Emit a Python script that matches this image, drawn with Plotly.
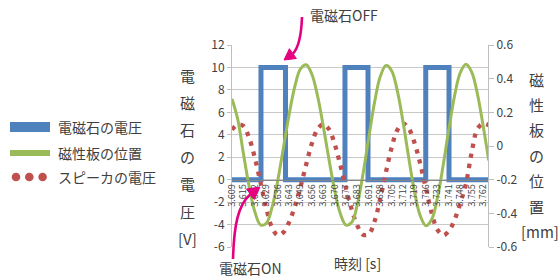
import plotly.graph_objects as go

# ---------------- data ----------------
tick_labels = ["3.609", "3.615", "3.622", "3.629", "3.636", "3.643", "3.649", "3.656",
               "3.663", "3.670", "3.677", "3.683", "3.691", "3.698", "3.705", "3.712",
               "3.719", "3.726", "3.733", "3.741", "3.748", "3.755", "3.762"]

# electromagnet voltage [V] (square wave): sample position (in label steps) and value
magnet_pos = [0, 2.54, 2.54, 4.69, 4.69, 9.90, 9.90, 11.92, 11.92, 16.98, 16.98, 19.02, 19.02, 22.5]
magnet_v = [0, 0, 10, 10, 0, 0, 10, 10, 0, 0, 10, 10, 0, 0]

# magnetic plate position [mm], sampled every half label step
plate_mm = [0.28, 0.16, -0.045, -0.24, -0.39, -0.468,
            -0.459, -0.367, -0.209, -0.013, 0.185, 0.352, 0.458,
            0.483, 0.426, 0.297, 0.118, -0.080, -0.264, -0.403, -0.470,
            -0.453, -0.342, -0.159, 0.057, 0.262, 0.414, 0.479,
            0.446, 0.324, 0.139, -0.075, -0.273, -0.415, -0.474,
            -0.437, -0.309, -0.118, 0.098, 0.296, 0.434, 0.485,
            0.440, 0.312, 0.125, -0.086]

# speaker voltage [V], sampled every half label step
speaker_v = [4.45, 4.89, 4.78, 3.73, 1.95, -0.24, -2.54, -4.24, -4.95, -4.70,
             -3.80, -2.40, -0.66, 1.35, 3.22, 4.50, 4.95, 4.49, 3.18, 1.28,
             -0.81, -2.69, -4.13, -4.91, -4.84, -3.69, -1.67, 0.71, 2.90, 4.44,
             5.0, 4.55, 3.27, 1.40, -0.80, -2.96, -4.46, -4.95, -4.58, -3.59,
             -2.12, -0.37, 2.4, 4.5, 5.0, 4.85]

left_ticks = [12, 10, 8, 6, 4, 2, 0, -2, -4, -6]
left_tick_text = ["12", "10", "8", "6", "4", "2", "0", "-2", "-4", "-6"]
right_ticks = [0.6, 0.4, 0.2, 0, -0.2, -0.4, -0.6]
right_tick_text = ["0.6", "0.4", "0.2", "0", "-0.2", "-0.4", "-0.6"]

series_names = ["電磁石の電圧", "磁性板の位置", "スピーカの電圧"]
left_title = ["電", "磁", "石", "の", "電", "圧", "[V]"]
right_title = ["磁", "性", "板", "の", "位", "置", "[mm]"]

# ---------------- styling ----------------
BLUE = "#4F81BD"
GREEN = "#9BBB59"
RED = "#C0504D"
MAGENTA = "#E4007F"
TXT = "#404040"
FONT = "Noto Sans CJK JP"
W, H = 558, 280
L, R, T, B = 232, 70, 45, 33
PW, PH = W - L - R, H - T - B


def px(x):
    return (x - L) / PW


def py(y):
    return (H - B - y) / PH


sample_pos = [i * 0.5 for i in range(len(plate_mm))]

fig = go.Figure()
fig.add_trace(go.Scatter(x=magnet_pos, y=magnet_v, mode="lines", name=series_names[0],
                         line=dict(color=BLUE, width=5), showlegend=False, yaxis="y"))
fig.add_trace(go.Scatter(x=sample_pos, y=speaker_v, mode="lines", name=series_names[2],
                         line=dict(color=RED, width=4.3, dash="4.3px,6px", shape="spline", smoothing=1),
                         showlegend=False, yaxis="y"))
fig.add_trace(go.Scatter(x=sample_pos, y=plate_mm, mode="lines", name=series_names[1],
                         line=dict(color=GREEN, width=3, shape="spline", smoothing=1),
                         showlegend=False, yaxis="y2"))

shapes = []
annotations = []

# ---- manual legend ----
shapes.append(dict(type="rect", xref="paper", yref="paper", x0=px(10), x1=px(50), y0=py(132), y1=py(122),
                   fillcolor=BLUE, line=dict(width=0)))
shapes.append(dict(type="rect", xref="paper", yref="paper", x0=px(10), x1=px(50), y0=py(156), y1=py(150),
                   fillcolor=GREEN, line=dict(width=0)))
for cx in (16, 29.3, 42.6):
    shapes.append(dict(type="circle", xref="paper", yref="paper", xsizemode="pixel", ysizemode="pixel",
                       xanchor=px(cx), yanchor=py(177), x0=-4.3, x1=4.3, y0=-4.3, y1=4.3,
                       fillcolor=RED, line=dict(width=0)))
for name, yy in zip(series_names, (127, 153, 177)):
    annotations.append(dict(text=name, xref="paper", yref="paper", x=px(56), y=py(yy), xanchor="left",
                            yanchor="middle", showarrow=False, font=dict(family=FONT, size=14, color=TXT)))

# ---- stacked axis titles ----
for i, ch in enumerate(left_title):
    annotations.append(dict(text=ch, xref="paper", yref="paper", x=px(187), y=py(75 + 27.2 * i),
                            xanchor="center", yanchor="middle", showarrow=False,
                            font=dict(family=FONT, size=15, color=TXT)))
for i, ch in enumerate(right_title):
    annotations.append(dict(text=ch, xref="paper", yref="paper", x=px(536 if i < 6 else 540),
                            y=py(79 + 25.4 * i), xanchor="center", yanchor="middle", showarrow=False,
                            font=dict(family=FONT, size=15, color=TXT)))
annotations.append(dict(text="時刻 [s]", xref="paper", yref="paper", x=px(357), y=py(263),
                        xanchor="center", yanchor="middle", showarrow=False,
                        font=dict(family=FONT, size=14, color=TXT)))

# ---- callouts ----
annotations.append(dict(text="電磁石OFF", xref="paper", yref="paper", x=px(308), y=py(15),
                        xanchor="left", yanchor="middle", showarrow=False,
                        font=dict(family=FONT, size=14, color=TXT)))
annotations.append(dict(text="電磁石ON", xref="paper", yref="paper", x=px(217), y=py(268),
                        xanchor="left", yanchor="middle", showarrow=False,
                        font=dict(family=FONT, size=14, color=TXT)))


def path(points, cmd):
    return cmd.format(*[v for p in points for v in (px(p[0]), py(p[1]))])


shapes.append(dict(type="path", xref="paper", yref="paper",
                   path=path([(302, 17), (301, 45), (293, 53.6)], "M {} {} Q {} {} {} {}"),
                   line=dict(color=MAGENTA, width=2.6)))
shapes.append(dict(type="path", xref="paper", yref="paper",
                   path=path([(284, 60), (296.4, 58.5), (289.4, 48.7)], "M {} {} L {} {} L {} {} Z"),
                   fillcolor=MAGENTA, line=dict(color=MAGENTA, width=1)))
shapes.append(dict(type="path", xref="paper", yref="paper",
                   path=path([(233, 259), (234, 225), (238, 205), (250.4, 194.2)],
                             "M {} {} C {} {} {} {} {} {}"),
                   line=dict(color=MAGENTA, width=2.6)))
shapes.append(dict(type="path", xref="paper", yref="paper",
                   path=path([(260, 187), (254.3, 199.4), (246.5, 189)], "M {} {} L {} {} L {} {} Z"),
                   fillcolor=MAGENTA, line=dict(color=MAGENTA, width=1)))

fig.update_layout(
    width=W, height=H,
    margin=dict(l=L, r=R, t=T, b=B, pad=0),
    paper_bgcolor="white", plot_bgcolor="white",
    showlegend=False,
    font=dict(family=FONT, color=TXT),
    xaxis=dict(range=[0, PW / 11.41], tickmode="array", tickvals=list(range(len(tick_labels))),
               ticktext=tick_labels, tickangle=-90, tickfont=dict(size=9, color=TXT),
               showgrid=False, zeroline=False, showline=True, linecolor="#868686", linewidth=1,
               anchor="free", position=1 / 3, ticks=""),
    yaxis=dict(range=[-6, 12], tickmode="array", tickvals=left_ticks, ticktext=left_tick_text,
               tickfont=dict(size=12, color=TXT), showgrid=True, gridcolor="#C9C9C9",
               gridwidth=1, zeroline=False, showline=True, linecolor="#BFBFBF",
               ticks="outside", ticklen=4, tickcolor="#BFBFBF"),
    yaxis2=dict(range=[-0.6, 0.6], overlaying="y", side="right", tickmode="array",
                tickvals=right_ticks, ticktext=right_tick_text,
                tickfont=dict(size=12, color=TXT), showgrid=False, zeroline=False,
                showline=True, linecolor="#BFBFBF", ticks="outside", ticklen=5, tickcolor="#BFBFBF"),
    shapes=shapes,
    annotations=annotations,
)

fig.write_html("out.html", config={"displayModeBar": False},
               post_script="document.body.style.margin='0';document.body.style.overflow='hidden';")
